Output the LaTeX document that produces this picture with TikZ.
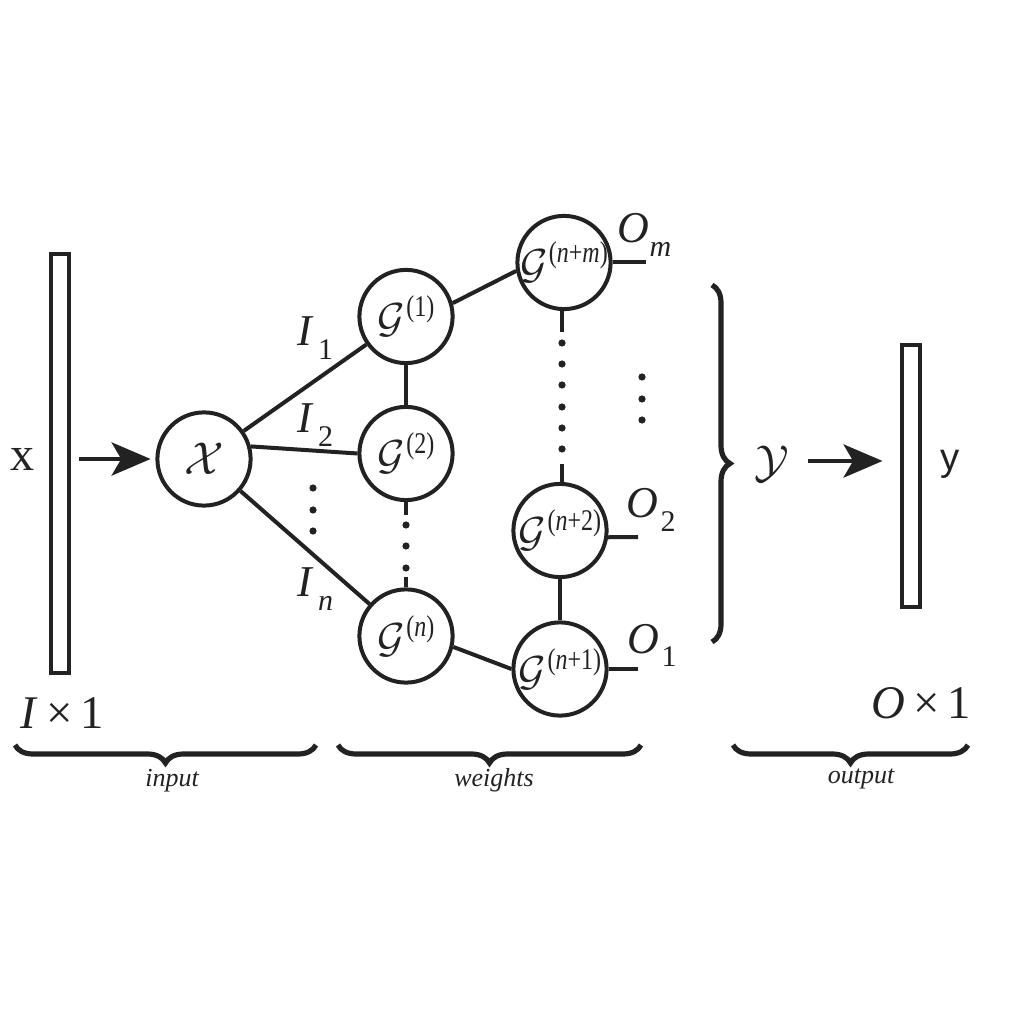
\RequirePackage{fix-cm}
\documentclass[tikz,border=0pt]{standalone}
\usepackage{fontspec}
\setmainfont{Liberation Serif}
\newfontfamily\sansfam{Liberation Sans}
\usepackage{graphicx}
\usetikzlibrary{arrows.meta,decorations.pathreplacing}
\definecolor{ink}{HTML}{222222}
\newcommand{\gcal}[1]{{\fontsize{10.5}{10.5}\selectfont$\mathcal{G}$}\kern0.3pt\raisebox{4pt}{\scalebox{0.8}[1]{\fontsize{7.5}{7.5}\selectfont(#1)}}}
\newcommand{\sublab}[3]{\textit{#1}\kern#3\raisebox{-3.3pt}{\fontsize{7.5}{7.5}\selectfont #2}}
\begin{document}
\begin{tikzpicture}[x=0.25pt,y=-0.25pt,
  ln/.style={draw=ink,line width=1pt},
  circ/.style={circle,draw=ink,line width=1pt,minimum size=23.3pt,inner sep=0pt},
  vbar/.style={rectangle,draw=ink,line width=1pt,minimum width=4.5pt,inner sep=0pt},
  arr/.style={draw=ink,line width=1pt,-{Stealth[length=9.75pt,width=8.3pt,inset=2.4pt]}},
  lab/.style={inner sep=0pt,font=\fontsize{11}{11}\selectfont,text=ink},
  gl/.style={inner sep=0pt,text=ink},
  brc/.style={draw=ink,line width=1.3pt,decorate,decoration={brace,amplitude=4.5pt}},
  captxt/.style={inner sep=0pt,font=\fontsize{6.5}{6.5}\selectfont\itshape,text=ink}]
\useasboundingbox (0,0) rectangle (1024,1024);
% input side
\node[vbar,minimum height=104.75pt] (xbar) at (59.5,463.5) {};
\node[lab,font=\fontsize{12}{12}\selectfont] (xl) at (22,459) {x};
\node[circ,font=\fontsize{11.5}{11.5}\selectfont,text=ink] (X) at (204,459) {$\mathcal{X}$};
\coordinate (xa) at (79,459);
\draw[arr,shorten >=1.2pt] (xa) -- (X.west);
% G nodes
\node[circ,label={[gl]center:\gcal{1}}] (G1) at (406,316.5) {};
\node[circ,label={[gl]center:\gcal{2}}] (G2) at (406,453.5) {};
\node[circ,label={[gl]center:\gcal{\textit{n}}}] (Gn) at (406,636) {};
\node[circ,label={[gl]center:\gcal{\textit{n}+\textit{m}}}] (Gnm) at (564,262.5) {};
\node[circ,label={[gl]center:\gcal{\textit{n}+2}}] (Gn2) at (560,530.5) {};
\node[circ,label={[gl]center:\gcal{\textit{n}+1}}] (Gn1) at (560,669) {};
% edges
\draw[ln] (X) -- (G1);
\draw[ln] (X.15) -- (G2.west);
\draw[ln] (X) -- (Gn);
\draw[ln] (G1) -- (G2);
\draw[ln] (G1.16) -- (Gnm.190);
\draw[ln] (Gn.-13) -- (Gn1.west);
\draw[ln] (Gn2) -- (Gn1);
% dotted continuations
\coordinate (s2a) at (406,515);
\coordinate (s2b) at (406,577);
\draw[ln] (G2.south) -- (s2a);
\draw[ln] (s2b) -- (Gn.north);
\coordinate (s3a) at (562,332);
\coordinate (s3b) at (562,464);
\draw[ln] (s3a |- Gnm.south) -- (s3a);
\draw[ln] (s3b) -- (s3b |- Gn2.north);
\foreach \yy in {525,546,568} \fill[ink] (406,\yy) circle[radius=0.9pt];
\foreach \yy in {343,364,385,407,428,449} \fill[ink] (562,\yy) circle[radius=0.9pt];
\foreach \yy in {488,510,531} \fill[ink] (313,\yy) circle[radius=0.9pt];
\foreach \yy in {377,399,420} \fill[ink] (642,\yy) circle[radius=0.9pt];
% output stubs
\coordinate (om) at (646,262.5);
\coordinate (o2) at (638,537);
\coordinate (o1) at (638,669);
\draw[ln] (Gnm.east) -- (om);
\draw[ln] (Gn2.-8) -- (o2);
\draw[ln] (Gn1.east) -- (o1);
% edge labels
\node[lab,anchor=base west] (Om) at (617,243) {\sublab{O}{\textit{m}}{0pt}};
\node[lab,anchor=base west] (O2) at (626,518) {\sublab{O}{2}{0.5pt}};
\node[lab,anchor=base west] (O1) at (627,653) {\sublab{O}{1}{0.5pt}};
\node[lab,anchor=base west] (I1) at (297,346) {\sublab{I}{1}{1pt}};
\node[lab,anchor=base west] (I2) at (297,433) {\sublab{I}{2}{1pt}};
\node[lab,anchor=base west] (In) at (297,597) {\sublab{I}{\textit{n}}{1pt}};
% output side
\draw[brc] (712,285) -- (712,642);
\node[lab,font=\fontsize{11.5}{11.5}\selectfont] (Yc) at (772,464) {$\mathcal{Y}$};
\coordinate (ya) at (808,461);
\node[vbar,minimum height=65.5pt] (ybar) at (910.5,476) {};
\draw[arr,shorten >=4.25pt] (ya) -- (ya -| ybar.west);
\node[lab,font=\fontsize{9.6}{9.6}\sansfam] (yl) at (950,464) {y};
% bottom
\node[lab,anchor=base west,font=\fontsize{11.7}{11.7}\selectfont] (Idim) at (20,728) {\textit{I}\,×\,1};
\node[lab,anchor=base west,font=\fontsize{11.7}{11.7}\selectfont] (Odim) at (871,718) {\textit{O}\,×\,1};
\draw[brc] (316,745) -- (15,745);
\draw[brc] (641,745) -- (338,745);
\draw[brc] (968,745) -- (733,745);
\node[captxt,anchor=base] (inp) at (172,786) {input};
\node[captxt,anchor=base] (wts) at (494,786) {weights};
\node[captxt,anchor=base] (outp) at (861,783) {output};
\end{tikzpicture}
\end{document}
